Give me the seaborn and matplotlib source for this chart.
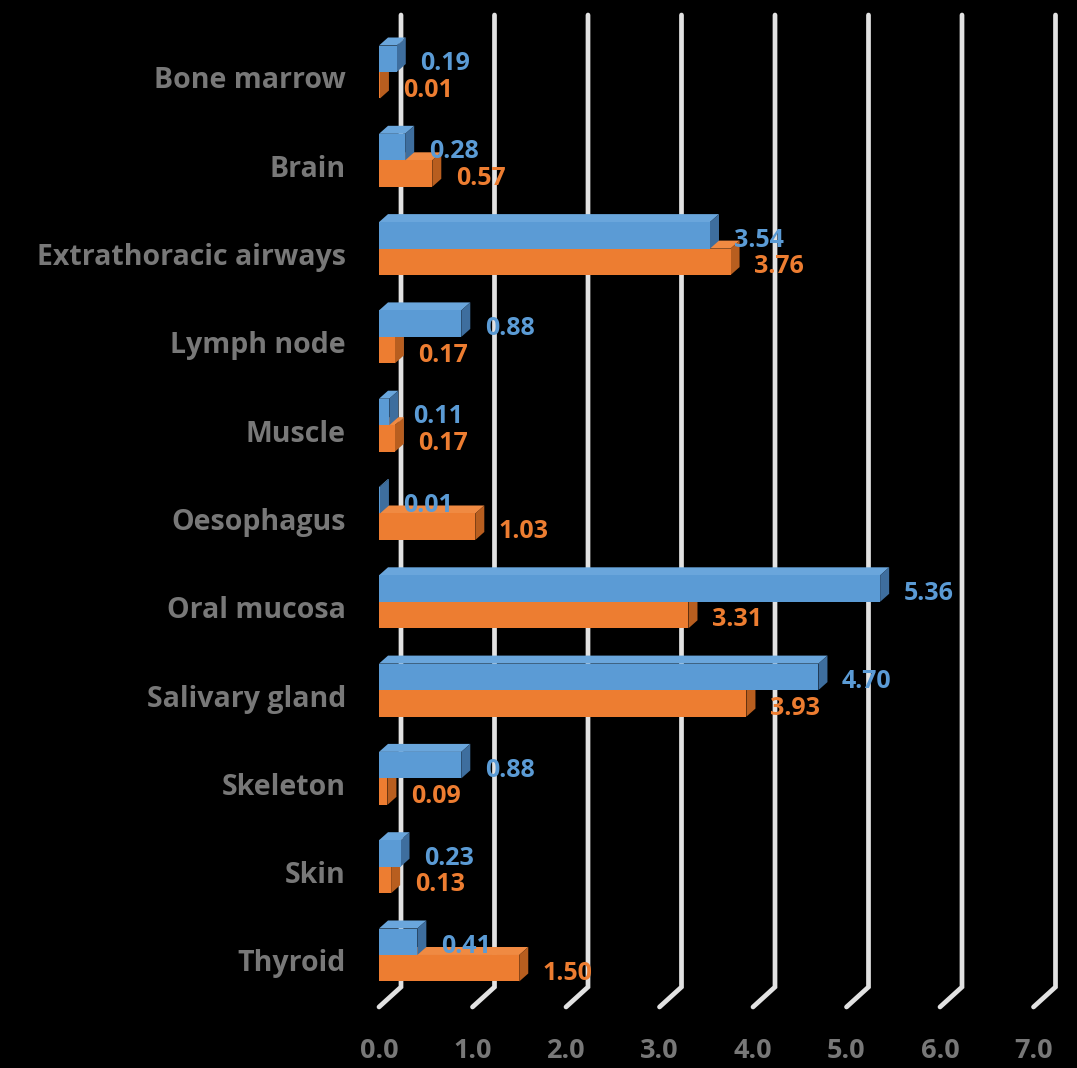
import numpy as np
import pandas as pd
import matplotlib
matplotlib.use("Agg")
import matplotlib.pyplot as plt
import seaborn as sns
from matplotlib.patches import Polygon
from matplotlib.lines import Line2D
from matplotlib.transforms import ScaledTranslation, blended_transform_factory

# ---------------- data ----------------
tissues = ["Bone marrow", "Brain", "Extrathoracic airways", "Lymph node", "Muscle",
           "Oesophagus", "Oral mucosa", "Salivary gland", "Skeleton", "Skin", "Thyroid"]
series_names = ["Series 1", "Series 2"]
blue_values = [0.19, 0.28, 3.54, 0.88, 0.11, 0.01, 5.36, 4.70, 0.88, 0.23, 0.41]
orange_values = [0.01, 0.57, 3.76, 0.17, 0.17, 1.03, 3.31, 3.93, 0.09, 0.13, 1.50]
x_ticks = [0, 1, 2, 3, 4, 5, 6, 7]
x_tick_labels = ["0.0", "1.0", "2.0", "3.0", "4.0", "5.0", "6.0", "7.0"]

# ---------------- style ----------------
BLUE, ORANGE = "#5B9BD5", "#ED7D31"
BLUE_SIDE, ORANGE_SIDE = "#3E6E9E", "#B85E1F"
BLUE_TOP, ORANGE_TOP = "#6AA6DC", "#F08A42"
GRID = "#E2E2E2"
LABEL_GRAY = "#787878"

sns.set_theme(style="dark", rc={"axes.facecolor": "black", "figure.facecolor": "black",
                                "savefig.facecolor": "black"})
plt.rcParams["font.family"] = ["Open Sans", "DejaVu Sans"]

W, H = 1077, 1068
fig = plt.figure(figsize=(W / 100, H / 100), dpi=100)
left_px, right_px, top_px, bottom_px = 379, 1033.5, 15, 1007
ax = fig.add_axes([left_px / W, 1 - bottom_px / H, (right_px - left_px) / W, (bottom_px - top_px) / H])

df = pd.DataFrame({
    "tissue": tissues * 2,
    "series": [series_names[0]] * len(tissues) + [series_names[1]] * len(tissues),
    "value": blue_values + orange_values,
})

sns.barplot(data=df, x="value", y="tissue", hue="series", palette=[BLUE, ORANGE],
            orient="h", width=0.6, saturation=1, legend=False, errorbar=None,
            linewidth=0, ax=ax)

ax.set_xlim(0, 7)
ax.set_ylim(10.589, -0.6455)
for s in ax.spines.values():
    s.set_visible(False)
ax.set_xlabel("")
ax.set_ylabel("")
ax.set_yticks([])
ax.set_xticks(x_ticks)
ax.set_xticklabels(x_tick_labels, fontsize=19.5, fontweight="bold", color=LABEL_GRAY)
ax.tick_params(axis="x", length=0, pad=22)
ax.grid(False)

fig.canvas.draw()

def disp_to_data(pts):
    return ax.transData.inverted().transform(pts)

# ---------- 3D gridlines (back plane + slanted foot) ----------
GDX, GDY = 22, 20
for v in x_ticks:
    fx, fy = ax.transData.transform((v, ax.get_ylim()[0]))
    tyy = ax.transAxes.transform((0, 1))[1]
    pts_disp = np.array([[fx, fy], [fx + GDX, fy + GDY], [fx + GDX, tyy]])
    pts = ax.transAxes.inverted().transform(pts_disp)
    ln = Line2D(pts[:, 0], pts[:, 1], transform=ax.transAxes, color=GRID, lw=3.4,
                solid_joinstyle="miter", solid_capstyle="round", clip_on=False, zorder=0.5)
    ax.add_line(ln)

# ---------- 3D faces of bars ----------
DX, DY = 9, 8
styles = [(BLUE, BLUE_SIDE, BLUE_TOP, 5), (ORANGE, ORANGE_SIDE, ORANGE_TOP, 3)]
for cont, (front, side, top, z) in zip(ax.containers, styles):
    for p in cont.patches:
        p.set_zorder(z)
        x0, y0 = p.get_x(), p.get_y()
        x1, y1 = x0 + p.get_width(), y0 + p.get_height()
        a = ax.transData.transform([(x0, y0), (x1, y0), (x1, y1)])
        (ax0, ayt), (ax1, _), (_, ayb) = a
        top_poly = np.array([[ax0, ayt], [ax1, ayt], [ax1 + DX, ayt + DY], [ax0 + DX, ayt + DY]])
        side_poly = np.array([[ax1, ayt], [ax1 + DX, ayt + DY], [ax1 + DX, ayb + DY], [ax1, ayb]])
        ax.add_patch(Polygon(disp_to_data(top_poly), closed=True, facecolor=top,
                             edgecolor="none", zorder=z - 1))
        ax.add_patch(Polygon(disp_to_data(side_poly), closed=True, facecolor=side,
                             edgecolor="none", zorder=z - 1))

# ---------- value labels ----------
for cont, color in zip(ax.containers, [BLUE, ORANGE]):
    for p, val in zip(cont.patches, cont.datavalues):
        ax.annotate(f"{val:.2f}", xy=(p.get_x() + p.get_width(), p.get_y() + p.get_height() / 2),
                    xytext=(17, -3.5), textcoords="offset points", ha="left", va="center",
                    color=color, fontsize=18, fontweight="bold", zorder=7,
                    annotation_clip=False)

# ---------- category labels ----------
ytrans = blended_transform_factory(ax.transAxes, ax.transData) + \
    ScaledTranslation(-33 / 100, -9 / 100, fig.dpi_scale_trans)
for i, t in enumerate(tissues):
    ax.text(0, i, t, transform=ytrans, ha="right", va="center", fontsize=20.5,
            fontweight="bold", color=LABEL_GRAY, clip_on=False)

fig.savefig("out.png", dpi=100, facecolor="black")
